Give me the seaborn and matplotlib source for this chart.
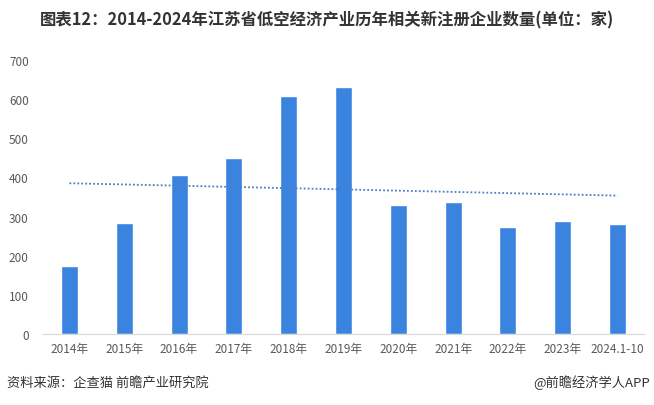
import numpy as np
import pandas as pd
import matplotlib
matplotlib.use('Agg')
import matplotlib.pyplot as plt
import seaborn as sns

years = ['2014年', '2015年', '2016年', '2017年', '2018年', '2019年',
         '2020年', '2021年', '2022年', '2023年', '2024.1-10']
counts = [174, 284, 406, 450, 608, 631, 330, 337, 273, 289, 281]
yticks = [0, 100, 200, 300, 400, 500, 600, 700]

df = pd.DataFrame({'year': years, 'count': counts})

sns.set_style('white')
plt.rcParams['font.family'] = ['Noto Sans CJK SC', 'DejaVu Sans']

bar_color = '#3a84e0'
text_color = '#595959'

fig = plt.figure(figsize=(6.54, 4.06), dpi=100)
ax = fig.add_axes([42 / 654, (406 - 335) / 406, 603 / 654, (335 - 61) / 406])

sns.barplot(x='year', y='count', data=df, color=bar_color, width=0.31,
            saturation=1, ax=ax)

# linear trend line
xs = np.arange(len(counts))
k, b = np.polyfit(xs, counts, 1)
ax.plot(xs, k * xs + b, linestyle=(0, (1, 1.2)), color='#4a7fc4', linewidth=1.3)

ax.set_ylim(0, 700)
ax.set_xlim(-0.5, len(years) - 0.5)
ax.set_yticks(yticks)
ax.set_xlabel('')
ax.set_ylabel('')
for s in ['top', 'right', 'left']:
    ax.spines[s].set_visible(False)
ax.spines['bottom'].set_color('#d9d9d9')
ax.tick_params(axis='both', length=0, labelsize=8.5, colors=text_color)
ax.tick_params(axis='x', pad=6)
ax.tick_params(axis='y', pad=9.5)

fig.text(0.5, 1 - 20 / 406, '图表12：2014-2024年江苏省低空经济产业历年相关新注册企业数量(单位：家)',
         ha='center', va='center', fontsize=11.8, fontweight='bold', color='#333333')
fig.text(7 / 654, 1 - 383 / 406, '资料来源：企查猫 前瞻产业研究院', ha='left', va='center',
         fontsize=9.5, color='#333333')
fig.text(650 / 654, 1 - 383 / 406, '@前瞻经济学人APP', ha='right', va='center',
         fontsize=9.5, color='#333333')

fig.savefig('out.png', dpi=100)
